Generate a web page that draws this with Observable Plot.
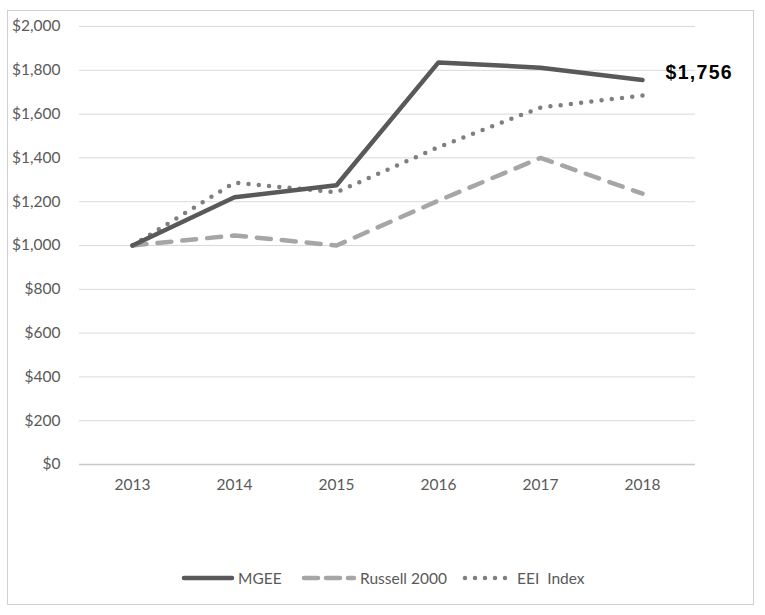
<!DOCTYPE html>
<html><head><meta charset="utf-8">
<script src="https://cdn.jsdelivr.net/npm/d3@7"></script>
<script src="https://cdn.jsdelivr.net/npm/@observablehq/plot@0.6"></script>
<style>
body{margin:0;background:#fff;font-family:Lato,"Open Sans",sans-serif;}
#wrap{position:relative;width:765px;height:615px;}
#frame{position:absolute;left:7px;top:10px;width:747px;height:595px;border:1px solid #d0d0d0;box-sizing:border-box;pointer-events:none;}
#chart{position:absolute;left:0;top:0;}
#legend{position:absolute;left:0;top:568px;width:765px;height:20px;font-size:15.5px;color:#595959;}
.item{position:absolute;top:0;display:flex;align-items:center;height:20px;}
.item svg{margin-right:3px;}
</style></head>
<body><div id="wrap"><div id="chart"></div><div id="legend"></div><div id="frame"></div></div>
<script>
const years = ["2013","2014","2015","2016","2017","2018"];
const mgee = [1000, 1220, 1275, 1836, 1812, 1756];
const russell = [1000, 1046, 1000, 1205, 1400, 1237];
const eei = [1000, 1287, 1243, 1449, 1630, 1685];
const yTicks = [0,200,400,600,800,1000,1200,1400,1600,1800,2000];
const seriesNames = ["MGEE","Russell 2000","EEI  Index"];
const endLabel = "$1,756";

const rows = (vals, name) => years.map((y,i)=>({year:y, value:vals[i], series:name}));
const dM = rows(mgee, seriesNames[0]);
const dR = rows(russell, seriesNames[1]);
const dE = rows(eei, seriesNames[2]);
const fmt = d => "$" + d3.format(",")(d);

const chart = Plot.plot({
  width: 765, height: 560,
  marginTop: 26, marginBottom: 96, marginLeft: 79, marginRight: 70,
  style: {fontFamily: "Lato, 'Open Sans', sans-serif", fontSize: "15.5px", color: "#595959", background: "transparent"},
  x: {type: "point", domain: years, padding: 0.5, label: null, tickSize: 0, tickPadding: 14},
  y: {domain: [0, 2000], ticks: yTicks, tickFormat: fmt, label: null, tickSize: 0, tickPadding: 19},
  marks: [
    Plot.gridY(yTicks.filter(d=>d>0), {stroke: "#d9d9d9", strokeOpacity: 1, strokeWidth: 1}),
    Plot.ruleY([0], {stroke: "#c8c8c8", strokeWidth: 1.5}),
    Plot.line(dR, {x: "year", y: "value", stroke: "#a6a6a6", strokeWidth: 4.5, strokeDasharray: "14,11", strokeLinecap: "round", strokeLinejoin: "round"}),
    Plot.line(dE, {x: "year", y: "value", stroke: "#7f7f7f", strokeWidth: 4.5, strokeDasharray: "0,10.3", strokeLinecap: "round", strokeLinejoin: "round"}),
    Plot.line(dM, {x: "year", y: "value", stroke: "#595959", strokeWidth: 4.5, strokeLinejoin: "round"}),
    Plot.text([dM[dM.length-1]], {x: "year", y: "value", text: () => endLabel, dx: 23, dy: -7, textAnchor: "start", fill: "#000", fontWeight: "bold", fontSize: 19.5, fontFamily: "Liberation Sans, Arial, sans-serif", style: "letter-spacing:1.2px"})
  ]
});
document.getElementById("chart").appendChild(chart);
chart.querySelectorAll("text").forEach(t => { if (t.textContent === endLabel) t.setAttribute("letter-spacing", "1.3"); });

const legend = document.getElementById("legend");
const legendItems = [
  {name: seriesNames[0], x: 181, w: 54, stroke: "#595959", dash: null},
  {name: seriesNames[1], x: 301, w: 56, stroke: "#a6a6a6", dash: "14,8"},
  {name: seriesNames[2], x: 462, w: 52, stroke: "#7f7f7f", dash: "0,10"}
];
legendItems.forEach(it => {
  const div = document.createElement("div");
  div.className = "item";
  div.style.left = it.x + "px";
  div.innerHTML = `<svg width="${it.w}" height="10"><line x1="3" x2="${it.w-3}" y1="5" y2="5" stroke="${it.stroke}" stroke-width="4.5" stroke-linecap="round" ${it.dash?`stroke-dasharray="${it.dash}"`:""}/></svg><span style="white-space:pre">${it.name}</span>`;
  legend.appendChild(div);
});
</script></body></html>
